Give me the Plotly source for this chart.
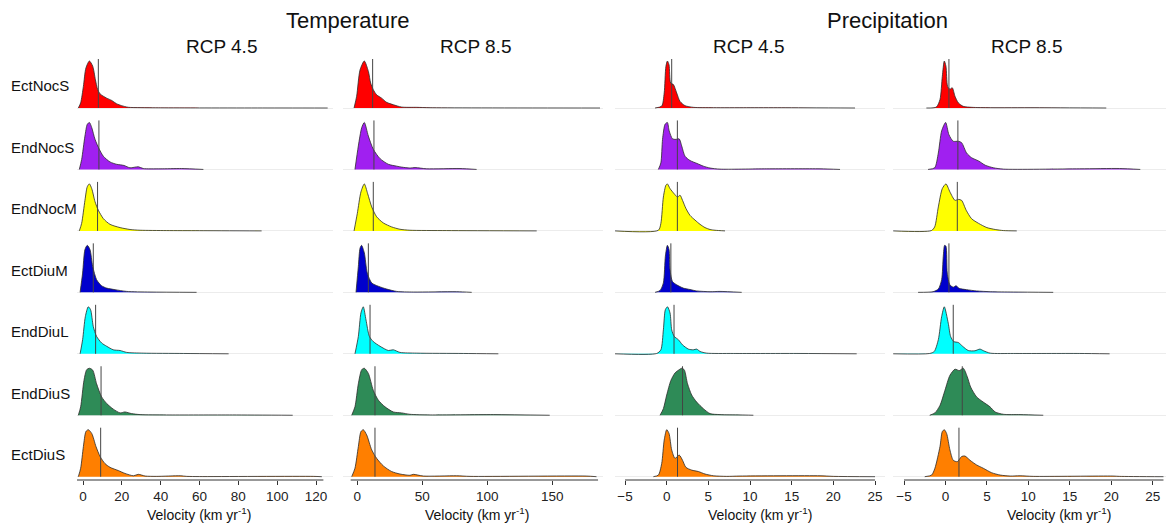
import plotly.graph_objects as go

# ---------------- data (velocity km/yr, relative density 0..1) ----------------
rows = ["EctNocS", "EndNocS", "EndNocM", "EctDiuM", "EndDiuL", "EndDiuS", "EctDiuS"]
colors = ["#FF0000", "#A020F0", "#FFFF00", "#0000CD", "#00FFFF", "#2E8B57", "#FF7F00"]
group_titles = ["Temperature", "Precipitation"]
scenario_titles = ["RCP 4.5", "RCP 8.5", "RCP 4.5", "RCP 8.5"]
axis_title = "Velocity (km yr<sup>-1</sup>)"

# Temperature RCP 4.5
T45_EctNocS_v = [-2.4, -1.2, 0.2, 1.5, 3.3, 5.0, 6.4, 7.5, 8.8, 10.5, 12.2, 14.8, 17.3, 19.9, 23.3, 29.4, 40, 60, 90, 126]
T45_EctNocS_d = [0, 0.11, 0.46, 0.85, 1.0, 0.89, 0.60, 0.40, 0.30, 0.25, 0.21, 0.16, 0.09, 0.05, 0.015, 0.008, 0.004, 0.002, 0.001, 0]
T45_EndNocS_v = [-1.9, -0.7, 1.0, 2.2, 3.3, 4.5, 6.2, 8.4, 10.5, 13.9, 17.3, 21.1, 24.2, 28.5, 31, 39.7, 50.8, 62]
T45_EndNocS_d = [0, 0.21, 0.71, 0.96, 1.0, 0.89, 0.64, 0.43, 0.28, 0.16, 0.11, 0.085, 0.035, 0.057, 0.02, 0.014, 0.02, 0]
T45_EndNocM_v = [-1.9, -0.7, 1.0, 2.2, 3.3, 4.5, 6.2, 7.9, 10.5, 13.9, 19.1, 24.2, 29.4, 43, 60, 92]
T45_EndNocM_d = [0, 0.16, 0.65, 0.94, 1.0, 0.9, 0.62, 0.44, 0.26, 0.14, 0.07, 0.03, 0.014, 0.007, 0.005, 0]
T45_EctDiuM_v = [-1.5, -0.2, 1.0, 2.2, 3.6, 5.0, 7.0, 9.6, 12.2, 16.5, 22.5, 34.5, 58.5]
T45_EctDiuM_d = [0, 0.41, 0.91, 1.0, 0.91, 0.55, 0.27, 0.14, 0.09, 0.057, 0.02, 0.007, 0]
T45_EndDiuL_v = [-1.5, -0.2, 1.2, 2.7, 3.9, 5.3, 7.0, 9.6, 12.2, 15.6, 19.1, 22.5, 31, 51.7, 75]
T45_EndDiuL_d = [0, 0.3, 0.79, 1.0, 0.94, 0.58, 0.37, 0.23, 0.16, 0.085, 0.07, 0.03, 0.014, 0.007, 0]
T45_EndDiuS_v = [-2.4, -1.2, 0.5, 1.9, 3.3, 5.0, 7.0, 9.6, 12.2, 15.6, 19.1, 21.6, 25, 29.4, 43, 77, 108]
T45_EndDiuS_d = [0, 0.18, 0.74, 0.97, 1.0, 0.96, 0.67, 0.39, 0.25, 0.13, 0.05, 0.07, 0.035, 0.014, 0.007, 0.007, 0]
T45_EctDiuS_v = [-2.4, -1.2, 0.2, 1.5, 2.7, 4.5, 6.7, 8.8, 11.3, 13.9, 18.2, 21.6, 26, 28.5, 32, 38, 50, 53.4, 60, 118.6, 123]
T45_EctDiuS_d = [0, 0.18, 0.64, 0.96, 1.0, 0.92, 0.64, 0.43, 0.28, 0.2, 0.13, 0.07, 0.02, 0.05, 0.014, 0.007, 0.02, 0.007, 0.003, 0.007, 0]
T45_means = [7.9, 8.2, 7.5, 5.3, 6.5, 9.3, 9.1]

# Temperature RCP 8.5
T85_EctNocS_v = [-2.5, -0.5, 2.1, 5.4, 8.5, 10.3, 12.3, 14.9, 18.7, 22.6, 27.7, 34.1, 45.7, 56, 186.7]
T85_EctNocS_d = [0, 0.25, 0.81, 1.0, 0.78, 0.53, 0.39, 0.28, 0.21, 0.12, 0.07, 0.02, 0.014, 0.007, 0]
T85_EndNocS_v = [-1.8, 0.8, 3.4, 5.4, 8.5, 12.3, 17.5, 23.9, 30.3, 34.1, 40.5, 44.4, 53.4, 79, 91.8]
T85_EndNocS_d = [0, 0.5, 0.89, 1.0, 0.71, 0.43, 0.23, 0.11, 0.07, 0.05, 0.03, 0.04, 0.014, 0.02, 0]
T85_EndNocM_v = [-2.5, 0, 2.8, 5.4, 8.0, 11.1, 14.9, 20.0, 26.4, 32.8, 40.5, 68.7, 138]
T85_EndNocM_d = [0, 0.37, 0.83, 1.0, 0.79, 0.51, 0.3, 0.17, 0.085, 0.035, 0.014, 0.007, 0]
T85_EctDiuM_v = [-1.0, 0.8, 2.1, 3.3, 5.4, 7.7, 11.1, 16.2, 22.6, 30.3, 43.1, 76.4, 88]
T85_EctDiuM_d = [0, 0.55, 0.94, 1.0, 0.84, 0.41, 0.2, 0.13, 0.07, 0.02, 0.007, 0.014, 0]
T85_EndDiuL_v = [-1.8, 0.8, 2.8, 4.6, 6.7, 9.3, 12.3, 17.5, 23.9, 27.7, 32.8, 45.7, 81.6, 108.5]
T85_EndDiuL_d = [0, 0.37, 0.87, 1.0, 0.72, 0.37, 0.26, 0.16, 0.07, 0.085, 0.03, 0.014, 0.007, 0]
T85_EndDiuS_v = [-4.3, -1.8, 0.8, 3.4, 5.4, 8.5, 12.3, 16.2, 21.3, 27.7, 34.1, 40.5, 56, 104.6, 148]
T85_EndDiuS_d = [0, 0.18, 0.67, 0.97, 1.0, 0.89, 0.53, 0.32, 0.18, 0.07, 0.05, 0.02, 0.007, 0.014, 0]
T85_EctDiuS_v = [-4.3, -1.8, 0.8, 2.8, 4.6, 7.2, 11.1, 14.9, 20.0, 26.4, 32.8, 40.5, 43.1, 50.8, 76.4, 86.7, 176, 184]
T85_EctDiuS_d = [0, 0.18, 0.64, 0.96, 1.0, 0.89, 0.57, 0.39, 0.23, 0.11, 0.057, 0.03, 0.05, 0.014, 0.02, 0.007, 0.014, 0]
T85_means = [11.8, 12.8, 12.3, 8.5, 9.8, 13.6, 13.6]

# Precipitation RCP 4.5
P45_EctNocS_v = [-1.4, -0.6, -0.3, -0.1, 0.08, 0.28, 0.48, 0.8, 1.2, 1.6, 2.2, 3.2, 5.6, 9.6, 13.8, 22.6]
P45_EctNocS_d = [0, 0.04, 0.32, 0.88, 1.0, 0.92, 0.53, 0.5, 0.32, 0.14, 0.05, 0.014, 0.007, 0.007, 0.007, 0]
P45_EndNocS_v = [-1.0, -0.7, -0.5, -0.2, 0.08, 0.3, 0.7, 1.1, 1.5, 1.8, 2.2, 2.8, 3.6, 4.4, 5.2, 6.4, 12, 18.4, 20.8]
P45_EndNocS_d = [0, 0.14, 0.64, 0.96, 1.0, 0.82, 0.65, 0.64, 0.65, 0.5, 0.28, 0.19, 0.13, 0.07, 0.03, 0.007, 0.014, 0.014, 0]
P45_EndNocM_v = [-6.2, -1.0, -0.7, -0.4, -0.1, 0.08, 0.4, 0.9, 1.3, 1.6, 1.9, 2.3, 2.8, 3.4, 4.0, 4.6, 5.2, 5.8, 7.0]
P45_EndNocM_d = [0, 0.014, 0.16, 0.72, 0.97, 1.0, 0.9, 0.79, 0.72, 0.76, 0.65, 0.48, 0.33, 0.23, 0.14, 0.07, 0.03, 0.014, 0]
P45_EctDiuM_v = [-1.4, -0.8, -0.4, -0.16, 0.08, 0.28, 0.4, 0.7, 1.2, 2.0, 2.8, 3.6, 5.2, 6.4, 9.0]
P45_EctDiuM_d = [0, 0.04, 0.2, 0.77, 1.0, 0.91, 0.48, 0.23, 0.16, 0.09, 0.06, 0.03, 0.014, 0.02, 0]
P45_EndDiuL_v = [-6.2, -1.2, -0.7, -0.4, -0.16, 0.1, 0.4, 0.6, 0.9, 1.4, 1.9, 2.6, 3.2, 3.6, 4.0, 4.8, 8.0, 16, 22.8]
P45_EndDiuL_d = [0, 0.007, 0.085, 0.51, 0.94, 1.0, 0.87, 0.51, 0.37, 0.3, 0.19, 0.1, 0.085, 0.1, 0.05, 0.014, 0.007, 0.007, 0]
P45_EndDiuS_v = [-0.8, -0.4, 0.0, 0.5, 1.0, 1.5, 1.8, 2.1, 2.5, 3.0, 3.6, 4.4, 5.2, 6.4, 8.8, 10.4]
P45_EndDiuS_d = [0, 0.14, 0.43, 0.74, 0.9, 0.97, 1.0, 0.97, 0.67, 0.43, 0.28, 0.14, 0.035, 0.014, 0.007, 0]
P45_EctDiuS_v = [-1.6, -1.0, -0.6, -0.3, 0.0, 0.28, 0.6, 1.0, 1.5, 1.9, 2.3, 3.0, 3.8, 4.6, 5.6, 7.2, 8.8, 18.4, 20, 25]
P45_EctDiuS_d = [0, 0.035, 0.28, 0.78, 1.0, 0.92, 0.57, 0.39, 0.46, 0.35, 0.2, 0.14, 0.11, 0.057, 0.02, 0.007, 0.014, 0.02, 0.007, 0]
P45_means = [0.6, 1.28, 1.28, 0.5, 0.88, 1.9, 1.3]

# Precipitation RCP 8.5
P85_EctNocS_v = [-2.3, -1.1, -0.66, -0.38, -0.14, 0.06, 0.26, 0.54, 0.82, 1.15, 1.55, 2.15, 3.2, 5.4, 10.8, 19.4]
P85_EctNocS_d = [0, 0.02, 0.18, 0.67, 1.0, 0.89, 0.46, 0.4, 0.43, 0.25, 0.11, 0.035, 0.014, 0.007, 0.007, 0]
P85_EndNocS_v = [-2.1, -1.3, -0.86, -0.46, 0.02, 0.42, 0.94, 1.55, 1.95, 2.55, 3.15, 4.0, 4.8, 5.8, 7.0, 16.2, 21, 23.5]
P85_EndNocS_d = [0, 0.035, 0.35, 0.82, 1.0, 0.74, 0.6, 0.6, 0.57, 0.35, 0.25, 0.18, 0.09, 0.035, 0.007, 0.014, 0.02, 0]
P85_EndNocM_v = [-6.3, -1.7, -1.3, -0.86, -0.38, 0.06, 0.54, 1.15, 1.55, 1.95, 2.5, 3.15, 4.0, 5.0, 6.0, 7.0, 8.6]
P85_EndNocM_d = [0, 0.007, 0.085, 0.51, 0.9, 1.0, 0.83, 0.65, 0.67, 0.65, 0.44, 0.26, 0.16, 0.07, 0.03, 0.007, 0]
P85_EctDiuM_v = [-3.3, -1.5, -0.86, -0.46, -0.26, -0.1, 0.06, 0.22, 0.54, 0.94, 1.27, 1.67, 2.55, 3.75, 5.4, 8.2, 13]
P85_EctDiuM_d = [0, 0.014, 0.07, 0.27, 0.77, 1.0, 0.98, 0.41, 0.16, 0.11, 0.14, 0.085, 0.057, 0.03, 0.014, 0.007, 0]
P85_EndDiuL_v = [-6.3, -1.9, -1.35, -0.86, -0.46, -0.14, 0.34, 0.62, 1.0, 1.55, 2.07, 2.75, 3.55, 4.16, 4.6, 5.4, 8.2, 16.2, 19.8]
P85_EndDiuL_d = [0, 0.007, 0.05, 0.3, 0.79, 1.0, 0.65, 0.37, 0.26, 0.24, 0.16, 0.07, 0.064, 0.1, 0.064, 0.014, 0.007, 0.007, 0]
P85_EndDiuS_v = [-1.9, -1.27, -0.66, -0.06, 0.54, 1.15, 1.67, 2.15, 2.63, 3.04, 3.76, 4.56, 5.37, 6.0, 7.0, 9.0, 11.8]
P85_EndDiuS_d = [0, 0.05, 0.21, 0.53, 0.85, 0.98, 0.95, 1.0, 0.82, 0.6, 0.39, 0.28, 0.18, 0.07, 0.02, 0.014, 0]
P85_EctDiuS_v = [-2.5, -1.67, -1.27, -0.66, -0.38, -0.14, 0.14, 0.54, 0.94, 1.43, 1.95, 2.35, 2.96, 3.76, 4.56, 5.57, 6.6, 7.8, 9.0, 10.6, 20.2, 21, 26.3]
P85_EctDiuS_d = [0, 0.035, 0.18, 0.64, 0.96, 1.0, 0.92, 0.57, 0.35, 0.32, 0.43, 0.44, 0.35, 0.25, 0.18, 0.085, 0.035, 0.014, 0.02, 0.007, 0.014, 0.007, 0]
P85_means = [0.42, 1.5, 1.43, 0.42, 0.94, 2.03, 1.63]

panel_curves = [
    [(T45_EctNocS_v, T45_EctNocS_d), (T45_EndNocS_v, T45_EndNocS_d), (T45_EndNocM_v, T45_EndNocM_d),
     (T45_EctDiuM_v, T45_EctDiuM_d), (T45_EndDiuL_v, T45_EndDiuL_d), (T45_EndDiuS_v, T45_EndDiuS_d),
     (T45_EctDiuS_v, T45_EctDiuS_d)],
    [(T85_EctNocS_v, T85_EctNocS_d), (T85_EndNocS_v, T85_EndNocS_d), (T85_EndNocM_v, T85_EndNocM_d),
     (T85_EctDiuM_v, T85_EctDiuM_d), (T85_EndDiuL_v, T85_EndDiuL_d), (T85_EndDiuS_v, T85_EndDiuS_d),
     (T85_EctDiuS_v, T85_EctDiuS_d)],
    [(P45_EctNocS_v, P45_EctNocS_d), (P45_EndNocS_v, P45_EndNocS_d), (P45_EndNocM_v, P45_EndNocM_d),
     (P45_EctDiuM_v, P45_EctDiuM_d), (P45_EndDiuL_v, P45_EndDiuL_d), (P45_EndDiuS_v, P45_EndDiuS_d),
     (P45_EctDiuS_v, P45_EctDiuS_d)],
    [(P85_EctNocS_v, P85_EctNocS_d), (P85_EndNocS_v, P85_EndNocS_d), (P85_EndNocM_v, P85_EndNocM_d),
     (P85_EctDiuM_v, P85_EctDiuM_d), (P85_EndDiuL_v, P85_EndDiuL_d), (P85_EndDiuS_v, P85_EndDiuS_d),
     (P85_EctDiuS_v, P85_EctDiuS_d)],
]
panel_means = [T45_means, T85_means, P45_means, P85_means]
panel_dtick = [20, 50, 5, 5]

# ---------------- layout geometry (pixels) ----------------
W, Hpx = 1166, 526
FONT = "Liberation Sans, Arial, sans-serif"
px_per_unit = [1.9417, 1.3, 8.333, 8.29]
zero_px = [83, 357.3, 666.7, 945.45]
dom_px = [(77, 333), (343, 603), (615, 885), (893, 1166)]
axis_line_ext = [(-3.6, 123.8), (-5.1, 185.2), (-5, 25), (-5, 26.3)]
plot_top, plot_bot = 50, 480
row_gap = 61.45
base_px = 476.7
y_lo = (base_px - plot_bot) / row_gap
y_hi = (base_px - plot_top) / row_gap
ridge_h = 47 / row_gap
mean_h = 49 / row_gap
ydom = [1 - plot_bot / Hpx, 1 - plot_top / Hpx]

fig = go.Figure()
layout_axes = {}
shapes = []
nrows = len(rows)
for p in range(4):
    xa = "x" if p == 0 else f"x{p+1}"
    ya = "y" if p == 0 else f"y{p+1}"
    for r in range(nrows):
        v, d = panel_curves[p][r]
        base = nrows - 1 - r
        fig.add_trace(go.Scatter(
            x=v, y=[base + di * ridge_h for di in d], mode="lines", fill="toself",
            fillcolor=colors[r], line=dict(color="#2b2b2b", width=0.8, shape="spline", smoothing=0.7),
            xaxis=xa, yaxis=ya, hoverinfo="skip", showlegend=False))
    mx, my = [], []
    for r, m in enumerate(panel_means[p]):
        base = nrows - 1 - r
        mx += [m, m, None]
        my += [base, base + mean_h, None]
    fig.add_trace(go.Scatter(x=mx, y=my, mode="lines", line=dict(color="#454545", width=1),
                             xaxis=xa, yaxis=ya, hoverinfo="skip", showlegend=False))
    l, rr = dom_px[p]
    xr = [(l - zero_px[p]) / px_per_unit[p], (rr - zero_px[p]) / px_per_unit[p]]
    kx = "xaxis" if p == 0 else f"xaxis{p+1}"
    ky = "yaxis" if p == 0 else f"yaxis{p+1}"
    layout_axes[kx] = dict(domain=[l / W, rr / W], range=xr, anchor=ya, showgrid=False, zeroline=False,
                           showline=False, ticks="outside", ticklen=4, tickcolor="#333", tickwidth=1,
                           tick0=0, dtick=panel_dtick[p], tickfont=dict(size=13.5, color="#222", family=FONT),
                           fixedrange=True)
    layout_axes[ky] = dict(domain=ydom, range=[y_lo, y_hi], anchor=xa, showgrid=True, gridcolor="#ececec",
                           gridwidth=1, tickvals=list(range(nrows)), showticklabels=False, zeroline=False,
                           showline=False, ticks="", fixedrange=True)
    shapes.append(dict(type="line", xref=xa, yref="paper", x0=axis_line_ext[p][0], x1=axis_line_ext[p][1],
                       y0=ydom[0], y1=ydom[0], line=dict(color="#333", width=1)))

ann = []
def pa(text, xpx, ypx, size, xanchor="center"):
    ann.append(dict(text=text, x=xpx / W, y=1 - ypx / Hpx, xref="paper", yref="paper", showarrow=False,
                    xanchor=xanchor, yanchor="middle", font=dict(size=size, color="#111", family=FONT)))

pa(group_titles[0], 347.5, 21, 22)
pa(group_titles[1], 887.5, 21, 22)
for cx, t in zip([221.7, 475, 748, 1026.5], scenario_titles):
    pa(t, cx, 46.5, 19)
for cx in [198.5, 477, 760, 1058.5]:
    pa(axis_title, cx, 514, 14)
for r, name in enumerate(rows):
    base = nrows - 1 - r
    ypx = base_px - base * row_gap - 22
    pa(name, 9, ypx, 15, xanchor="left")

fig.update_layout(width=W, height=Hpx, margin=dict(l=0, r=0, t=0, b=0), plot_bgcolor="white",
                  paper_bgcolor="white", annotations=ann, shapes=shapes, font=dict(family=FONT),
                  **layout_axes)
fig.write_html("out.html", config={"displayModeBar": False},
               post_script="document.body.style.margin='0';document.body.style.overflow='hidden';")
